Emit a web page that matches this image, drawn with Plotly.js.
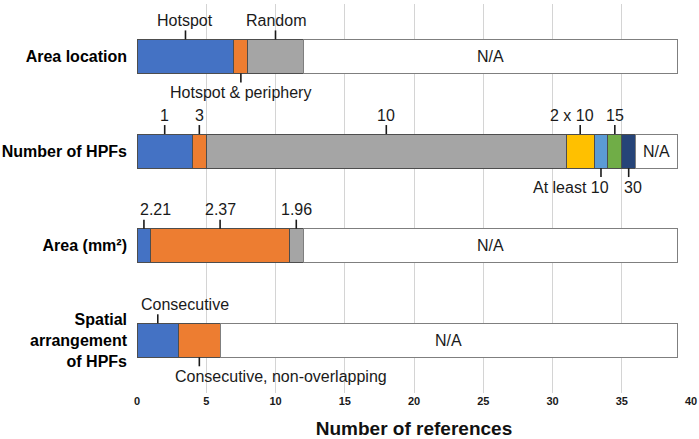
<!DOCTYPE html>
<html>
<head>
<meta charset="utf-8">
<script src="https://cdn.plot.ly/plotly-3.0.1.min.js"></script>
<style>
  html, body { margin: 0; padding: 0; background: #fff; }
  #chart { width: 699px; height: 439px; }
</style>
</head>
<body>
<div id="chart"></div>
<script>
// ---- Data ----
const categories = ["Area location", "Number of HPFs", "Area (mm²)", "Spatial arrangement of HPFs"];
const tickLabels = ["Area location", "Number of HPFs", "Area (mm²)", "Spatial<br>arrangement<br>of HPFs"];

const areaLocationLabels = ["Hotspot", "Hotspot & periphery", "Random", "N/A"];
const areaLocationValues = [7, 1, 4, 27];

const hpfLabels = ["1", "3", "10", "2 x 10", "At least 10", "15", "30", "N/A"];
const hpfValues = [4, 1, 26, 2, 1, 1, 1, 3];

const areaLabels = ["2.21", "2.37", "1.96", "N/A"];
const areaValues = [1, 10, 1, 27];

const spatialLabels = ["Consecutive", "Consecutive, non-overlapping", "N/A"];
const spatialValues = [3, 3, 33];

const xTickValues = [0, 5, 10, 15, 20, 25, 30, 35, 40];

// ---- Styles ----
const rowLabels = [areaLocationLabels, hpfLabels, areaLabels, spatialLabels];
const rowValues = [areaLocationValues, hpfValues, areaValues, spatialValues];
const palette = ["#4472C4", "#ED7D31", "#A5A5A5", "#FFC000", "#5B9BD5", "#70AD47", "#264478"];
const naColor = "#FFFFFF";
const labelsBelow = new Set(["Hotspot & periphery", "At least 10", "30", "Consecutive, non-overlapping"]);
const labelXShift = { "At least 10": -30, "2 x 10": -8, "30": 4, "2.21": 12, "Consecutive": 27, "Consecutive, non-overlapping": 82 };
const FONT = "Liberation Sans, Arial, Helvetica, sans-serif";
const TXT = "#1a1a1a";

const traces = [];
const annotations = [];
const shapes = [];

rowLabels.forEach((labels, r) => {
  let cum = 0;
  labels.forEach((lab, i) => {
    const v = rowValues[r][i];
    const isNA = lab === "N/A";
    traces.push({
      type: "bar",
      orientation: "h",
      y: [categories[r]],
      x: [v],
      width: 0.36,
      name: lab,
      marker: {
        color: isNA ? naColor : palette[i],
        line: { color: isNA ? "#7f7f7f" : "#4d4d4d", width: 1 }
      },
      hoverinfo: "name+x",
      showlegend: false
    });
    const mid = cum + v / 2;
    if (isNA) {
      annotations.push({
        x: mid, y: r, xref: "x", yref: "y",
        text: lab, showarrow: false,
        font: { family: FONT, size: 16, color: TXT }
      });
    } else {
      const below = labelsBelow.has(lab);
      const s = below ? -1 : 1; // pixel mode: positive = up
      shapes.push({
        type: "line", xref: "x", yref: "y",
        ysizemode: "pixel", yanchor: r,
        x0: mid, x1: mid, y0: s * 17, y1: s * 26,
        line: { color: TXT, width: 1.6 }
      });
      annotations.push({
        x: mid, y: r, xref: "x", yref: "y",
        text: lab, showarrow: false,
        yshift: s * 36,
        xshift: labelXShift[lab] || 0,
        font: { family: FONT, size: 16, color: TXT }
      });
    }
    cum += v;
  });
});

const layout = {
  width: 699,
  height: 439,
  margin: { l: 137, r: 8, t: 4, b: 46 },
  paper_bgcolor: "#fff",
  plot_bgcolor: "#fff",
  barmode: "stack",
  showlegend: false,
  font: { family: FONT, color: "#000" },
  xaxis: {
    range: [0, 40],
    tickvals: xTickValues,
    ticktext: xTickValues.map(String),
    showgrid: true,
    gridcolor: "#d4d4d4",
    gridwidth: 1,
    zeroline: false,
    showline: false,
    ticks: "",
    tickfont: { family: FONT, size: 11, weight: 700, color: TXT },
    title: {
      text: "Number of references",
      font: { family: FONT, size: 19, weight: 700, color: "#111" },
      standoff: 15
    }
  },
  yaxis: {
    type: "category",
    categoryorder: "array",
    categoryarray: categories,
    tickvals: categories,
    ticktext: tickLabels,
    range: [3.557, -0.554],
    showgrid: false,
    zeroline: false,
    showline: false,
    ticks: "",
    ticklabelstandoff: 9,
    tickfont: { family: FONT, size: 16, weight: 700, color: "#000" }
  },
  shapes: shapes,
  annotations: annotations
};

Plotly.newPlot("chart", traces, layout, { displayModeBar: false, staticPlot: true });
</script>
</body>
</html>
